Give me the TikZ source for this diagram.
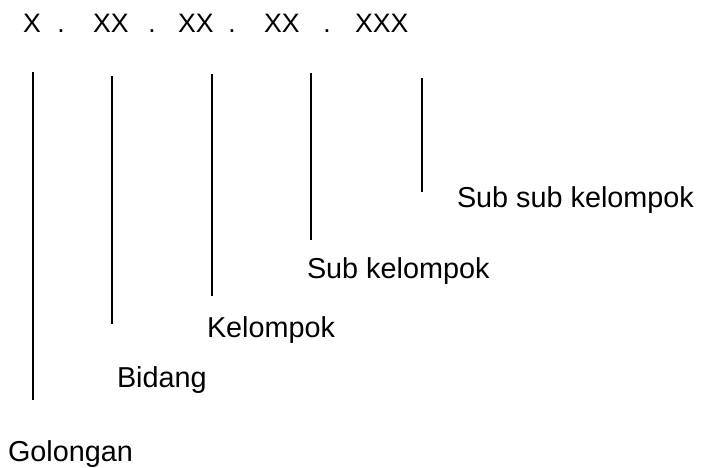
\documentclass[tikz,border=0pt]{standalone}
\usepackage{fontspec}
\setmainfont{Liberation Sans}

\begin{document}
\begin{tikzpicture}[x=0.75pt,y=-0.75pt,line width=1.5pt,
                    code node/.style={inner sep=0pt,anchor=base west,font=\fontsize{20}{24}\selectfont},
                    dot node/.style={inner sep=0pt,anchor=base,font=\fontsize{20}{24}\selectfont},
                    label node/.style={inner sep=0pt,anchor=base west,font=\fontsize{21.6}{26}\selectfont}]
\useasboundingbox (0,0) rectangle (701,468);

% the code digits
\node[code node] (x1) at (22,32) {X};
\node[dot node] (d1) at (61,32) {.};
\node[code node] (x2) at (92,32) {XX};
\node[dot node] (d2) at (152,32) {.};
\node[code node] (x3) at (177,32) {XX};
\node[dot node] (d3) at (232,32) {.};
\node[code node] (x4) at (263,32) {XX};
\node[dot node] (d4) at (327,32) {.};
\node[code node] (x5) at (354,32) {XXX};

% the ticks
\coordinate (1a) at (33,72);  \coordinate (1b) at (33,400);
\coordinate (2a) at (112,76); \coordinate (2b) at (112,324);
\coordinate (3a) at (212,74); \coordinate (3b) at (212,296);
\coordinate (4a) at (311,73); \coordinate (4b) at (311,240);
\coordinate (5a) at (422,78); \coordinate (5b) at (422,192);

\path[draw]
(1a) edge (1b)
(2a) edge (2b)
(3a) edge (3b)
(4a) edge (4b)
(5a) edge (5b);

% the names
\node[label node] (gol) at (7,461) {Golongan};
\node[label node] (bid) at (116,387) {Bidang};
\node[label node] (kel) at (206,337) {Kelompok};
\node[label node] (sub) at (306,278) {Sub kelompok};
\node[label node] (subsub) at (456,207) {Sub sub kelompok};
\end{tikzpicture}
\end{document}
